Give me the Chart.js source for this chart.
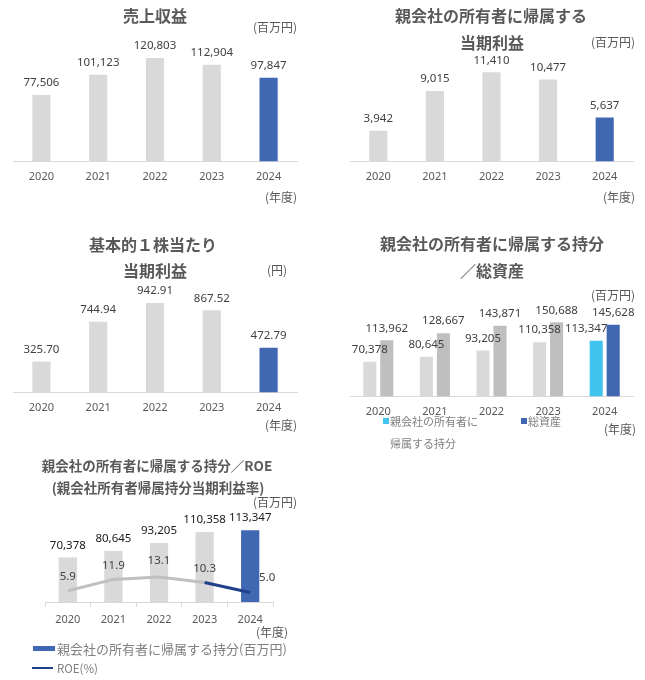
<!DOCTYPE html>
<html lang="ja">
<head>
<meta charset="utf-8">
<script src="https://cdn.jsdelivr.net/npm/chart.js@4.4.1/dist/chart.umd.min.js"></script>
<style>
  body { margin: 0; background: #fff; }
  #page { position: relative; width: 645px; height: 680px; overflow: hidden; }
  canvas { position: absolute; }
  .t { position: absolute; font-family: "Noto Sans CJK JP", sans-serif; font-weight: bold; color: #595959;
       font-size: 16px; line-height: 20px; height: 20px; text-align: center; white-space: nowrap; }
  .t.s { font-size: 13.5px; }
  .u { position: absolute; left: 0; font-family: "Noto Sans CJK JP", sans-serif; color: #595959;
       font-size: 12px; line-height: 16px; height: 16px; text-align: right; white-space: nowrap; }
  .lg { position: absolute; font-family: "Noto Sans CJK JP", sans-serif; color: #7f7f7f;
        font-size: 11px; line-height: 16px; height: 16px; white-space: nowrap; }
  .sw { position: absolute; }
</style>
</head>
<body>
<div id="page">
  <canvas id="c1" width="330" height="225" style="left:0;top:0"></canvas>
  <canvas id="c2" width="315" height="225" style="left:330px;top:0"></canvas>
  <canvas id="c3" width="330" height="225" style="left:0;top:225px"></canvas>
  <canvas id="c4" width="315" height="225" style="left:330px;top:225px"></canvas>
  <canvas id="c5" width="330" height="230" style="left:0;top:450px"></canvas>

  <!-- titles -->
  <div class="t" style="left:55px;width:200px;top:5px">売上収益</div>
  <div class="t" style="left:391px;width:200px;top:5px">親会社の所有者に帰属する</div>
  <div class="t" style="left:392px;width:200px;top:32px">当期利益</div>
  <div class="t" style="left:53px;width:200px;top:234px">基本的１株当たり</div>
  <div class="t" style="left:55px;width:200px;top:260px">当期利益</div>
  <div class="t" style="left:372px;width:240px;top:233px">親会社の所有者に帰属する持分</div>
  <div class="t" style="left:392px;width:200px;top:260px">／総資産</div>
  <div class="t s" style="left:17px;width:280px;top:455px">親会社の所有者に帰属する持分／ROE</div>
  <div class="t s" style="left:18px;width:280px;top:477px">(親会社所有者帰属持分当期利益率)</div>

  <!-- units -->
  <div class="u" style="width:297px;top:19px">(百万円)</div>
  <div class="u" style="width:297px;top:189px">(年度)</div>
  <div class="u" style="width:635px;top:34px">(百万円)</div>
  <div class="u" style="width:635px;top:189px">(年度)</div>
  <div class="u" style="width:287px;top:262px">(円)</div>
  <div class="u" style="width:297px;top:417px">(年度)</div>
  <div class="u" style="width:635px;top:287px">(百万円)</div>
  <div class="u" style="width:636px;top:421px">(年度)</div>
  <div class="u" style="width:297px;top:494px">(百万円)</div>
  <div class="u" style="width:288px;top:624px">(年度)</div>

  <!-- legend: equity / total assets -->
  <div class="sw" style="left:383px;top:418px;width:6px;height:6px;background:#41c5f0"></div>
  <div class="lg" style="left:390px;top:413px">親会社の所有者に</div>
  <div class="lg" style="left:390px;top:435px">帰属する持分</div>
  <div class="sw" style="left:521px;top:418px;width:6px;height:6px;background:#4068b2"></div>
  <div class="lg" style="left:528px;top:413px">総資産</div>

  <!-- legend: equity / ROE -->
  <div class="sw" style="left:33px;top:646px;width:22px;height:5px;background:#4068b2"></div>
  <div class="lg" style="left:57px;top:641px;font-size:13px">親会社の所有者に帰属する持分(百万円)</div>
  <div class="sw" style="left:32px;top:667px;width:21px;height:2px;background:#203f8c"></div>
  <div class="lg" style="left:57px;top:660px;font-size:11.5px">ROE(%)</div>
</div>

<script>
// values
const years = ['2020', '2021', '2022', '2023', '2024'];
const revenue = [77506, 101123, 120803, 112904, 97847];
const netIncome = [3942, 9015, 11410, 10477, 5637];
const eps = [325.70, 744.94, 942.91, 867.52, 472.79];
const equity = [70378, 80645, 93205, 110358, 113347];
const totalAssets = [113962, 128667, 143871, 150688, 145628];
const roe = [5.9, 11.9, 13.1, 10.3, 5.0];

const GRAY = '#d9d9d9';
const GRAY2 = '#bfbfbf';
const BLUE = '#4068b2';
const LIGHTBLUE = '#41c5f0';
const NAVY = '#203f8c';

const intFmt = v => v.toLocaleString('en-US');
const highlightLast = (arr, base, hi) => arr.map((v, i) => i === arr.length - 1 ? hi : base);

// draws the value above each bar / point
const valueLabels = {
  id: 'valueLabels',
  afterDatasetsDraw(chart) {
    const ctx = chart.ctx;
    chart.data.datasets.forEach((ds, di) => {
      if (!ds.fmt) return;
      const meta = chart.getDatasetMeta(di);
      meta.data.forEach((el, i) => {
        const dx = ds.labelDx ? ds.labelDx[i] : 0;
        const dy = ds.labelDy ? ds.labelDy[i] : 0;
        ctx.save();
        ctx.font = '11.5px "Noto Sans"';
        ctx.fillStyle = ds.labelColor || '#404040';
        ctx.textAlign = 'center';
        ctx.textBaseline = 'middle';
        ctx.fillText(ds.fmt(ds.data[i]), el.x + dx, el.y - (ds.labelGap || 12) + dy);
        ctx.restore();
      });
    });
  }
};

function xAxis(extra) {
  return Object.assign({
    grid: { display: false, drawTicks: false },
    border: { display: true, color: GRAY, width: 1 },
    ticks: { color: '#595959', font: { family: 'Noto Sans', size: 11, lineHeight: 1.2 }, padding: 9 }
  }, extra || {});
}

function barChart(id, data, yMax, pad, fmt) {
  return new Chart(document.getElementById(id), {
    type: 'bar',
    data: {
      labels: years,
      datasets: [{
        data: data,
        backgroundColor: highlightLast(data, GRAY, BLUE),
        categoryPercentage: 1,
        barPercentage: 0.32,
        fmt: fmt
      }]
    },
    options: {
      responsive: false,
      animation: false,
      layout: { padding: pad },
      plugins: { legend: { display: false }, tooltip: { enabled: false } },
      scales: {
        x: xAxis(),
        y: { display: false, min: 0, max: yMax }
      }
    },
    plugins: [valueLabels]
  });
}

barChart('c1', revenue, 150000, { left: 13, right: 33, top: 33, bottom: 32.3 }, intFmt);
barChart('c2', netIncome, 14000, { left: 20, right: 12, top: 52, bottom: 32.3 }, intFmt);
barChart('c3', eps, 1200, { left: 13, right: 33, top: 53.7, bottom: 26.3 }, v => v.toFixed(2));

// equity vs total assets
new Chart(document.getElementById('c4'), {
  type: 'bar',
  data: {
    labels: years,
    datasets: [
      {
        label: '親会社の所有者に帰属する持分',
        data: equity,
        backgroundColor: highlightLast(equity, GRAY, LIGHTBLUE),
        categoryPercentage: 0.6,
        barPercentage: 0.77,
        fmt: intFmt,
        labelDx: [0, 0, 0, 0, -10]
      },
      {
        label: '総資産',
        data: totalAssets,
        backgroundColor: highlightLast(totalAssets, GRAY2, BLUE),
        categoryPercentage: 0.6,
        barPercentage: 0.77,
        fmt: intFmt
      }
    ]
  },
  options: {
    responsive: false,
    animation: false,
    layout: { padding: { left: 20, right: 12, top: 73, bottom: 22.3 } },
    plugins: { legend: { display: false }, tooltip: { enabled: false } },
    scales: {
      x: xAxis(),
      y: { display: false, min: 0, max: 200000 }
    }
  },
  plugins: [valueLabels]
});

// equity with ROE line
new Chart(document.getElementById('c5'), {
  type: 'bar',
  data: {
    labels: years,
    datasets: [
      {
        type: 'line',
        label: 'ROE(%)',
        data: roe,
        yAxisID: 'y1',
        order: 1,
        borderWidth: 3,
        borderColor: GRAY2,
        segment: { borderColor: c => c.p1DataIndex === years.length - 1 ? NAVY : GRAY2 },
        pointRadius: 0,
        tension: 0,
        fmt: v => v.toFixed(1),
        labelGap: 14,
        labelDx: [0, 0, 0, 0, 17],
        labelDy: [0, 0, -2, 0, -1]
      },
      {
        label: '親会社の所有者に帰属する持分(百万円)',
        data: equity,
        order: 2,
        backgroundColor: highlightLast(equity, GRAY, BLUE),
        categoryPercentage: 1,
        barPercentage: 0.4,
        fmt: intFmt,
        labelColor: '#1a1a1a'
      }
    ]
  },
  options: {
    responsive: false,
    animation: false,
    layout: { padding: { left: 45, right: 57, top: 57, bottom: 47.8 } },
    plugins: { legend: { display: false }, tooltip: { enabled: false } },
    scales: {
      x: xAxis({
        grid: { display: true, drawOnChartArea: false, drawTicks: true, tickLength: 5, color: GRAY, offset: true },
        ticks: { color: '#595959', font: { family: 'Noto Sans', size: 11, lineHeight: 1.2 }, padding: 6 }
      }),
      y: { display: false, min: 0, max: 150000 },
      y1: { display: false, min: 0, max: 50, position: 'right' }
    }
  },
  plugins: [valueLabels]
});
</script>
</body>
</html>
